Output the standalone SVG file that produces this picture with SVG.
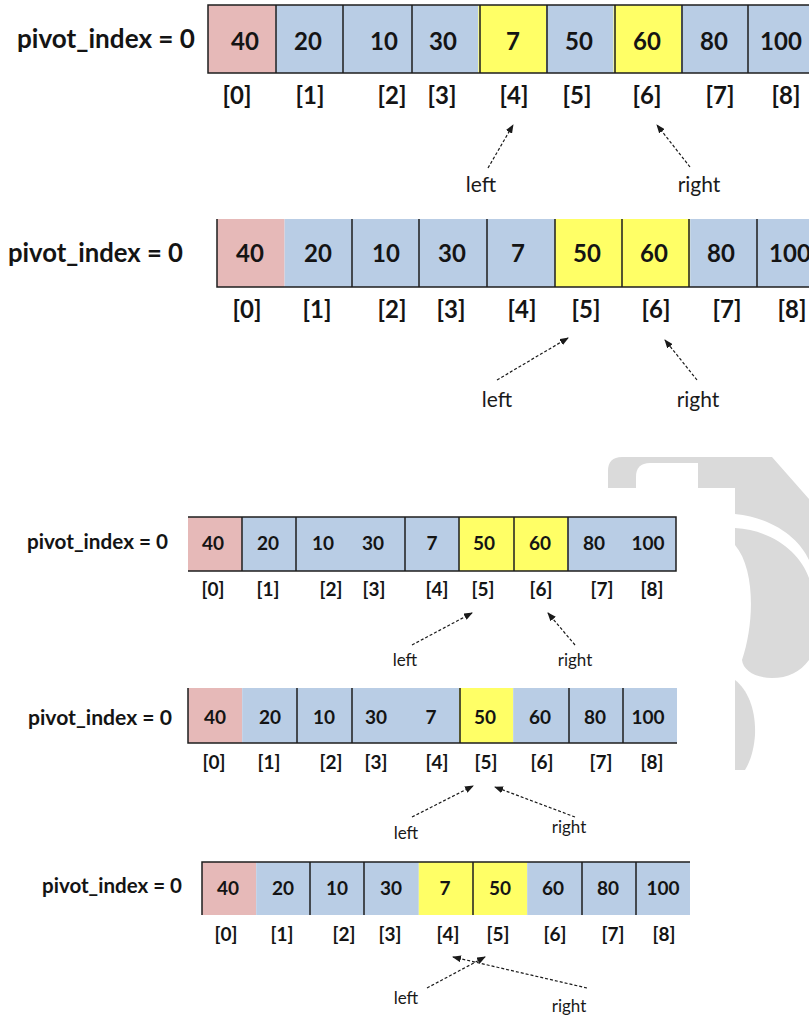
<svg xmlns="http://www.w3.org/2000/svg" width="809" height="1019" viewBox="0 0 809 1019">
  <style>
    .pink { fill: #e6b9b8; }
    .blue { fill: #b9cde5; }
    .yel { fill: #ffff66; }
    .edge { fill: none; stroke: #1e1e1e; stroke-width: 1.5; }
    .val { font-family: Lato, "Liberation Sans", sans-serif; font-weight: bold; fill: #141414; text-anchor: middle; }
    .lbl { font-family: Lato, "Liberation Sans", sans-serif; font-weight: bold; fill: #141414; }
    .ptr { font-family: Lato, "Liberation Sans", sans-serif; fill: #1a1a1a; text-anchor: middle; }
    .big { font-size: 24px; }
    .sm { font-size: 19px; }
    .arrow { fill: none; stroke: #1a1a1a; stroke-width: 1.2; stroke-dasharray: 3 2; marker-end: url(#head); }
  </style>
  <defs>
    <marker id="head" markerUnits="userSpaceOnUse" markerWidth="9" markerHeight="7" refX="8" refY="3.5" orient="auto">
      <path d="M0,0 L9,3.5 L0,7 Z" fill="#1a1a1a"/>
    </marker>
  </defs>
  <rect width="809" height="1019" fill="#ffffff"/>

  <!-- faint logo in the background -->
  <g id="watermark" fill="#dadada">
    <path d="M608,488 V471 Q608,457 622,457 H772 L809,499 V560 C800,540 775,518 735,514 V488 Z"/>
    <path d="M636,488 V477 Q636,463 650,463 H698 V488 Z" fill="#ffffff"/>
    <path d="M735,528 C772,530 800,552 809,578 V660 C800,672 788,678 772,678 C755,678 743,670 742,660 C754,625 756,570 735,545 Z"/>
    <path d="M735,680 C748,690 756,710 755,735 C754,750 750,762 745,770 H735 Z"/>
  </g>

  <!-- step 1 -->
  <g id="array1">
    <text class="lbl" x="17" y="48" font-size="26" textLength="178" lengthAdjust="spacingAndGlyphs">pivot_index = 0</text>
    <rect class="pink" x="208" y="5" width="67.6" height="68"/>
    <rect class="blue" x="275.6" y="5" width="202.8" height="68"/>
    <rect class="yel" x="478.4" y="5" width="67.6" height="68"/>
    <rect class="blue" x="546" y="5" width="67.6" height="68"/>
    <rect class="yel" x="613.6" y="5" width="67.6" height="68"/>
    <rect class="blue" x="681.2" y="5" width="140" height="68"/>
    <path class="edge" d="M830,5 H208 V73 H830 M276,5 V73 M343,5 V73 M412,5 V73 M480,5 V73 M547,5 V73 M615,5 V73 M682,5 V73 M748,5 V73"/>
    <g class="val big">
      <text x="245" y="50">40</text><text x="308" y="50">20</text><text x="384" y="50">10</text>
      <text x="443" y="50">30</text><text x="513" y="50">7</text><text x="579" y="50">50</text>
      <text x="647" y="50">60</text><text x="714" y="50">80</text><text x="781" y="50">100</text>
      <text x="237" y="104">[0]</text><text x="310" y="104">[1]</text><text x="392" y="104">[2]</text>
      <text x="442" y="104">[3]</text><text x="514" y="104">[4]</text><text x="577" y="104">[5]</text>
      <text x="647" y="104">[6]</text><text x="720" y="104">[7]</text><text x="786" y="104">[8]</text>
    </g>
    <text class="ptr" x="481" y="192" font-size="21">left</text>
    <text class="ptr" x="699" y="192" font-size="21">right</text>
  </g>

  <!-- step 2 -->
  <g id="array2">
    <text class="lbl" x="8" y="262" font-size="26" textLength="175" lengthAdjust="spacingAndGlyphs">pivot_index = 0</text>
    <rect class="pink" x="217" y="219" width="67.6" height="68"/>
    <rect class="blue" x="284.6" y="219" width="270.4" height="68"/>
    <rect class="yel" x="555" y="219" width="135.2" height="68"/>
    <rect class="blue" x="690.2" y="219" width="140" height="68"/>
    <path class="edge" d="M217,219 V287 H830 M352,219 V287 M419,219 V287 M487,219 V287 M555,219 V287 M622,219 V287 M689,219 V287 M757,219 V287"/>
    <g class="val big">
      <text x="250" y="262">40</text><text x="318" y="262">20</text><text x="386" y="262">10</text>
      <text x="452" y="262">30</text><text x="518" y="262">7</text><text x="587" y="262">50</text>
      <text x="654" y="262">60</text><text x="721" y="262">80</text><text x="790" y="262">100</text>
      <text x="247" y="318">[0]</text><text x="317" y="318">[1]</text><text x="392" y="318">[2]</text>
      <text x="451" y="318">[3]</text><text x="522" y="318">[4]</text><text x="586" y="318">[5]</text>
      <text x="656" y="318">[6]</text><text x="727" y="318">[7]</text><text x="792" y="318">[8]</text>
    </g>
    <text class="ptr" x="497" y="407" font-size="21">left</text>
    <text class="ptr" x="698" y="407" font-size="21">right</text>
  </g>

  <!-- step 3 -->
  <g id="array3">
    <text class="lbl" x="27" y="549" font-size="21" textLength="141" lengthAdjust="spacingAndGlyphs">pivot_index = 0</text>
    <rect class="pink" x="188" y="517" width="54.2" height="54"/>
    <rect class="blue" x="242.2" y="517" width="216.8" height="54"/>
    <rect class="yel" x="459" y="517" width="108.4" height="54"/>
    <rect class="blue" x="567.4" y="517" width="108.6" height="54"/>
    <path class="edge" d="M188,517 H676 V571 H188 M242,517 V571 M296,517 V571 M405,517 V571 M459,517 V571 M514,517 V571 M568,517 V571"/>
    <g class="val sm">
      <text x="213" y="550">40</text><text x="268" y="550">20</text><text x="323" y="550">10</text>
      <text x="373" y="550">30</text><text x="432" y="550">7</text><text x="484" y="550">50</text>
      <text x="540" y="550">60</text><text x="594" y="550">80</text><text x="648" y="550">100</text>
      <text x="213" y="596">[0]</text><text x="268" y="596">[1]</text><text x="331" y="596">[2]</text>
      <text x="374" y="596">[3]</text><text x="437" y="596">[4]</text><text x="483" y="596">[5]</text>
      <text x="541" y="596">[6]</text><text x="602" y="596">[7]</text><text x="652" y="596">[8]</text>
    </g>
    <text class="ptr" x="405" y="666" font-size="17">left</text>
    <text class="ptr" x="575" y="666" font-size="17">right</text>
  </g>

  <!-- step 4 -->
  <g id="array4">
    <text class="lbl" x="28" y="725" font-size="21" textLength="144" lengthAdjust="spacingAndGlyphs">pivot_index = 0</text>
    <rect class="pink" x="188" y="688" width="54.2" height="55"/>
    <rect class="blue" x="242.2" y="688" width="216.8" height="55"/>
    <rect class="yel" x="459" y="688" width="54.2" height="55"/>
    <rect class="blue" x="513.2" y="688" width="163.8" height="55"/>
    <path class="edge" d="M188,688 V743 H677 M297,688 V743 M352,688 V743 M460,688 V743 M569,688 V743 M623,688 V743"/>
    <g class="val sm">
      <text x="215" y="724">40</text><text x="270" y="724">20</text><text x="324" y="724">10</text>
      <text x="376" y="724">30</text><text x="431" y="724">7</text><text x="485" y="724">50</text>
      <text x="540" y="724">60</text><text x="595" y="724">80</text><text x="648" y="724">100</text>
      <text x="214" y="769">[0]</text><text x="269" y="769">[1]</text><text x="331" y="769">[2]</text>
      <text x="376" y="769">[3]</text><text x="437" y="769">[4]</text><text x="486" y="769">[5]</text>
      <text x="542" y="769">[6]</text><text x="601" y="769">[7]</text><text x="652" y="769">[8]</text>
    </g>
    <text class="ptr" x="406" y="839" font-size="17">left</text>
    <text class="ptr" x="569" y="833" font-size="17">right</text>
  </g>

  <!-- step 5 -->
  <g id="array5">
    <text class="lbl" x="42" y="893" font-size="21" textLength="140" lengthAdjust="spacingAndGlyphs">pivot_index = 0</text>
    <rect class="pink" x="202" y="862" width="54.2" height="53"/>
    <rect class="blue" x="256.2" y="862" width="162.6" height="53"/>
    <rect class="yel" x="418.8" y="862" width="108.4" height="53"/>
    <rect class="blue" x="527.2" y="862" width="162.8" height="53"/>
    <path class="edge" d="M202,915 V862 H690 M310,862 V915 M364,862 V915 M473,862 V915 M582,862 V915 M636,862 V915"/>
    <g class="val sm">
      <text x="228" y="895">40</text><text x="283" y="895">20</text><text x="337" y="895">10</text>
      <text x="391" y="895">30</text><text x="445" y="895">7</text><text x="500" y="895">50</text>
      <text x="553" y="895">60</text><text x="608" y="895">80</text><text x="663" y="895">100</text>
      <text x="226" y="941">[0]</text><text x="282" y="941">[1]</text><text x="344" y="941">[2]</text>
      <text x="390" y="941">[3]</text><text x="448" y="941">[4]</text><text x="498" y="941">[5]</text>
      <text x="555" y="941">[6]</text><text x="613" y="941">[7]</text><text x="664" y="941">[8]</text>
    </g>
    <text class="ptr" x="406" y="1004" font-size="17">left</text>
    <text class="ptr" x="569" y="1012" font-size="17">right</text>
  </g>

  <!-- pointer arrows -->
  <g id="connectors">
    <line class="arrow" x1="488" y1="168" x2="513" y2="125"/>
    <line class="arrow" x1="690" y1="167" x2="657" y2="125"/>
    <line class="arrow" x1="497" y1="380" x2="568" y2="338"/>
    <line class="arrow" x1="697" y1="380" x2="665" y2="340"/>
    <line class="arrow" x1="412" y1="645" x2="472" y2="613"/>
    <line class="arrow" x1="575" y1="645" x2="548" y2="613"/>
    <line class="arrow" x1="412" y1="817" x2="473" y2="786"/>
    <line class="arrow" x1="575" y1="817" x2="495" y2="787"/>
    <line class="arrow" x1="427" y1="988" x2="485" y2="957"/>
    <line class="arrow" x1="587" y1="988" x2="453" y2="957"/>
  </g>
</svg>
